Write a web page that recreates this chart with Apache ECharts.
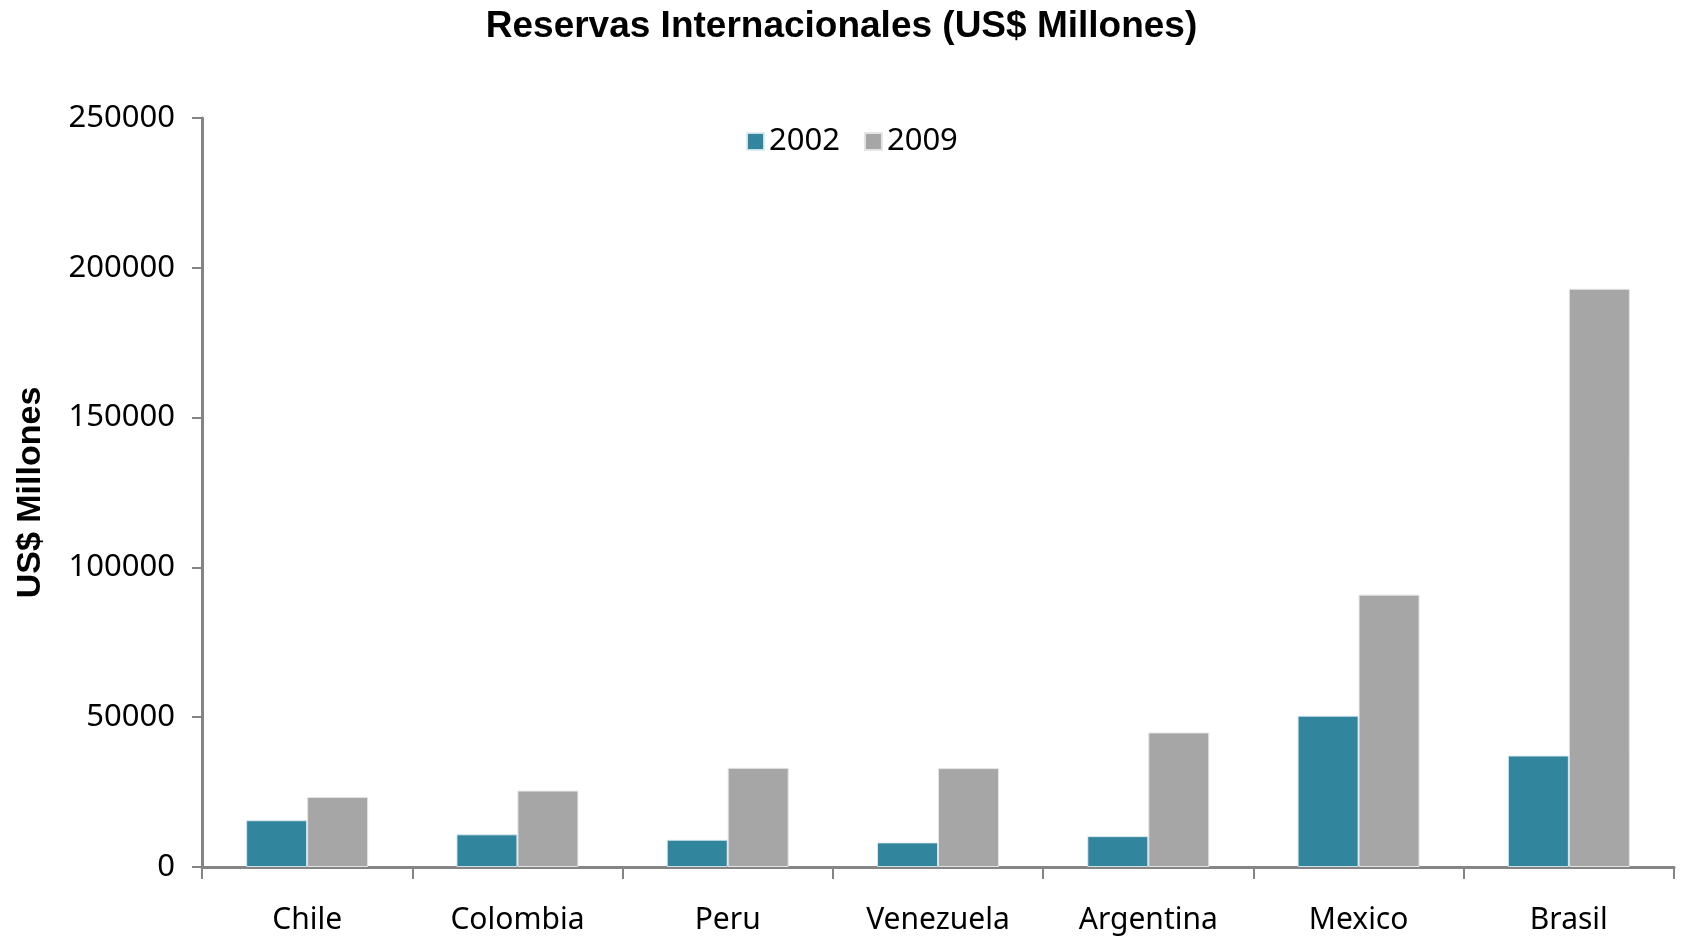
<!DOCTYPE html>
<html>
<head>
<meta charset="utf-8">
<script src="https://cdn.jsdelivr.net/npm/echarts@6/dist/echarts.min.js"></script>
<style>
  html, body { margin: 0; padding: 0; background: #fff; }
  #chart { width: 1683px; height: 940px; }
</style>
</head>
<body>
<div id="chart"></div>
<script>
const countries = ['Chile', 'Colombia', 'Peru', 'Venezuela', 'Argentina', 'Mexico', 'Brasil'];
const reservas2002 = [15600, 10900, 9100, 8200, 10300, 50500, 37200];
const reservas2009 = [23400, 25500, 33100, 33000, 44900, 90900, 193000];
const yTicks = [0, 50000, 100000, 150000, 200000, 250000];

const chart = echarts.init(document.getElementById('chart'));

const axisFont = 'Noto Sans, DejaVu Sans, sans-serif';

const option = {
  animation: false,
  title: {
    text: 'Reservas Internacionales (US$ Millones)',
    left: 'center',
    top: 3,
    textStyle: {
      fontFamily: 'Liberation Sans, Arial, sans-serif',
      fontWeight: 'bold',
      fontSize: 37,
      color: '#000'
    }
  },
  legend: {
    data: ['2002', '2009'],
    left: 746,
    top: 126,
    padding: 0,
    itemWidth: 17,
    itemHeight: 17,
    itemGap: 24,
    icon: 'rect',
    textStyle: {
      fontFamily: axisFont,
      fontSize: 31,
      color: '#000'
    }
  },
  grid: {
    left: 202,
    right: 9,
    top: 118,
    bottom: 73
  },
  xAxis: {
    type: 'category',
    data: countries,
    axisLine: { lineStyle: { color: '#858585', width: 3 } },
    axisTick: { show: true, length: 12, lineStyle: { color: '#858585', width: 2 } },
    axisLabel: {
      margin: 38,
      fontFamily: axisFont,
      fontSize: 30,
      color: '#000'
    }
  },
  yAxis: {
    type: 'value',
    min: yTicks[0],
    max: yTicks[yTicks.length - 1],
    interval: yTicks[1] - yTicks[0],
    name: 'US$ Millones',
    nameLocation: 'middle',
    nameRotate: 90,
    nameGap: 154,
    nameTextStyle: {
      fontFamily: 'Liberation Sans, Arial, sans-serif',
      fontWeight: 'bold',
      fontSize: 34,
      color: '#000'
    },
    axisLine: { show: true, lineStyle: { color: '#858585', width: 3 } },
    axisTick: { show: true, length: 10, lineStyle: { color: '#858585', width: 2 } },
    splitLine: { show: false },
    axisLabel: {
      margin: 27,
      fontFamily: axisFont,
      fontSize: 31,
      color: '#000',
      formatter: v => String(v)
    }
  },
  series: [
    {
      name: '2002',
      type: 'bar',
      data: reservas2002,
      barGap: '0%',
      barCategoryGap: '42%',
      itemStyle: { color: '#31859c', borderColor: 'rgba(220,235,240,0.9)', borderWidth: 1 }
    },
    {
      name: '2009',
      type: 'bar',
      data: reservas2009,
      barGap: '0%',
      barCategoryGap: '42%',
      itemStyle: { color: '#a6a6a6', borderColor: '#e4e4e4', borderWidth: 1 }
    }
  ]
};

chart.setOption(option);
</script>
</body>
</html>
